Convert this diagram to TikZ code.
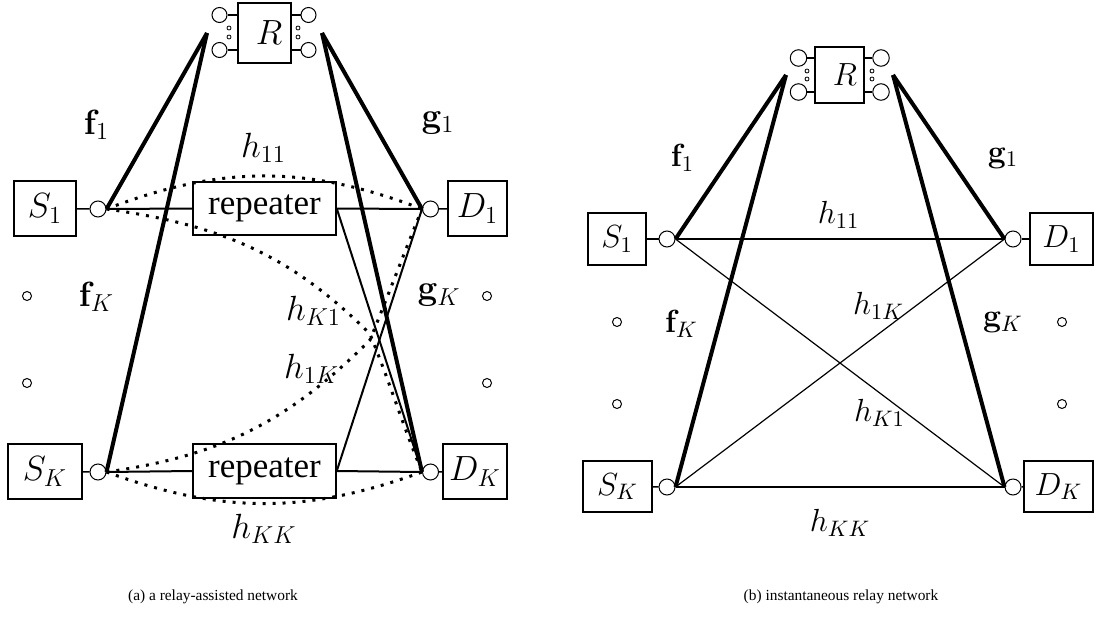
\documentclass[tikz,border=0pt]{standalone}
\usepackage{fix-cm}
\usepackage[no-math]{fontspec}
\setmainfont{Liberation Serif}
\begin{document}
\begin{tikzpicture}[x=0.5pt,y=-0.5pt,
  bx/.style={draw, line width=0.75pt, inner sep=0pt},
  port/.style={circle, draw, line width=0.5pt, minimum size=8pt, inner sep=0pt},
  tinyc/.style={circle, draw, line width=0.4pt, minimum size=2pt, inner sep=0pt},
  vdot/.style={circle, draw, line width=0.5pt, minimum size=4.5pt, inner sep=0pt},
  conn/.style={line width=0.75pt},
  thickln/.style={line width=2pt},
  thinln/.style={line width=1pt},
  thinnerln/.style={line width=0.6pt},
  dotln/.style={line width=1.5pt, dash pattern=on 1.5pt off 3.5pt},
  fa/.style={font=\fontsize{17.5}{20}\selectfont},
  fb/.style={font=\fontsize{16}{19}\selectfont},
  lbl/.style={inner sep=0pt},
  captxt/.style={font=\fontsize{7.7}{9}\selectfont, inner sep=0pt}
]
\useasboundingbox (0,0) rectangle (1096,626);

% ================= Left panel =================
% relay
\node[bx, minimum width=26.5pt, minimum height=30pt] (RA) at (264.5,33) {};
\node[fa, lbl] (RAt) at (269,33) {$R$};
\node[port, minimum size=7.5pt] (ral1) at (219.5,15) {};
\node[port, minimum size=7.5pt] (ral2) at (219.5,50) {};
\node[port, minimum size=7.5pt] (rar1) at (308.5,15) {};
\node[port, minimum size=7.5pt] (rar2) at (308.5,50) {};
\draw[conn] (ral1.east) -- (ral1.east -| RA.west);
\draw[conn] (ral2.east) -- (ral2.east -| RA.west);
\draw[conn] (rar1.west) -- (rar1.west -| RA.east);
\draw[conn] (rar2.west) -- (rar2.west -| RA.east);
\node[tinyc] (ta1) at (229,28) {};
\node[tinyc] (ta2) at (229,37) {};
\node[tinyc] (ta3) at (298,28) {};
\node[tinyc] (ta4) at (298,37) {};
\coordinate (RaL) at (207,33);
\coordinate (RaR) at (322,33);

% sources / destinations
\node[bx, fa, minimum width=31pt, minimum height=27.5pt] (S1a) at (45,208.5) {$S_1$};
\node[bx, fa, minimum width=37pt, minimum height=27.5pt] (SKa) at (45,471.5) {$S_K$};
\node[bx, fa, minimum width=29.5pt, minimum height=27.5pt] (D1a) at (477.5,208.5) {$D_1$};
\node[bx, fa, minimum width=32pt, minimum height=27.5pt] (DKa) at (475,471.5) {$D_K$};
\node[port] (s1a) at (98,209) {};
\node[port] (ska) at (98,472) {};
\node[port] (d1a) at (430.5,209) {};
\node[port] (dka) at (430.5,472) {};
\draw[conn] (S1a) -- (s1a);
\draw[conn] (SKa) -- (ska);
\draw[conn] (D1a) -- (d1a);
\draw[conn] (DKa) -- (dka);

% repeaters
\node[bx, fa, minimum width=71.5pt, minimum height=26.5pt] (rep1) at (264.5,208.5) {repeater};
\node[bx, fa, minimum width=71.5pt, minimum height=27pt] (repK) at (264.5,471) {repeater};

% thin links
\draw[thinln] (s1a.east) -- (rep1.west);
\draw[thinln] (rep1.east) -- (d1a.west);
\draw[thinln] (rep1.east) -- (dka.west);
\draw[thinln] (ska.east) -- (repK.west);
\draw[thinln] (repK.east) -- (dka.west);
\draw[thinln] (repK.east) -- (d1a.west);

% relay links
\draw[thickln] (RaL) -- (s1a.east);
\draw[thickln] (RaL) -- (ska.east);
\draw[thickln] (RaR) -- (d1a.west);
\draw[thickln] (RaR) -- (dka.west);

% direct (dotted) links
\coordinate (Va) at (370,334);
\coordinate (Vb) at (370,340);
\draw[dotln] (s1a.east) to[bend left=21] (d1a.west);
\draw[dotln] (ska.east) to[bend right=20] (dka.west);
\draw[dotln] (s1a.east) to[out=-8,in=135] (Va) to[out=-68,in=112] (dka.west);
\draw[dotln] (ska.east) to[out=8,in=-135] (Vb) to[out=68,in=-112] (d1a.west);

% vertical ellipsis dots
\node[vdot] (ea1) at (27,296) {};
\node[vdot] (ea2) at (27,383) {};
\node[vdot] (ea3) at (487,296) {};
\node[vdot] (ea4) at (487,383) {};

% labels
\node[fa, lbl] (f1a) at (96.5,125) {$\mathbf{f}_1$};
\node[fa, lbl] (g1a) at (438,123) {$\mathbf{g}_1$};
\node[fa, lbl] (h11a) at (263.5,147.5) {$h_{11}$};
\node[fa, lbl] (fKa) at (96.5,297) {$\mathbf{f}_K$};
\node[fa, lbl] (gKa) at (439,295.5) {$\mathbf{g}_K$};
\node[fa, lbl] (hK1a) at (313.5,311) {$h_{K1}$};
\node[fa, lbl] (h1Ka) at (311.5,369) {$h_{1K}$};
\node[fa, lbl] (hKKa) at (264,529) {$h_{KK}$};
\node[captxt] (capa) at (213,597) {(a) a relay-assisted network};

% ================= Right panel =================
\node[bx, minimum width=24.5pt, minimum height=28pt] (RB) at (839.5,75) {};
\node[fb, lbl] (RBt) at (845,75) {$R$};
\node[port, minimum size=8.25pt] (rbl1) at (798.5,58) {};
\node[port, minimum size=8.25pt] (rbl2) at (798.5,92) {};
\node[port, minimum size=8.25pt] (rbr1) at (881,58) {};
\node[port, minimum size=8.25pt] (rbr2) at (881,92) {};
\draw[conn] (rbl1.east) -- (rbl1.east -| RB.west);
\draw[conn] (rbl2.east) -- (rbl2.east -| RB.west);
\draw[conn] (rbr1.west) -- (rbr1.west -| RB.east);
\draw[conn] (rbr2.west) -- (rbr2.west -| RB.east);
\node[tinyc] (tb1) at (807,71) {};
\node[tinyc] (tb2) at (807,79) {};
\node[tinyc] (tb3) at (872,71) {};
\node[tinyc] (tb4) at (872,79) {};
\coordinate (RbL) at (786,75);
\coordinate (RbR) at (893,75);

\node[bx, fb, minimum width=29pt, minimum height=26pt] (S1b) at (617,239) {$S_1$};
\node[bx, fb, minimum width=34.5pt, minimum height=25.5pt] (SKb) at (617.5,486.5) {$S_K$};
\node[bx, fb, minimum width=31.5pt, minimum height=26pt] (D1b) at (1061.5,239) {$D_1$};
\node[bx, fb, minimum width=34.5pt, minimum height=25.5pt] (DKb) at (1058.5,486.5) {$D_K$};
\node[port] (s1b) at (667,239) {};
\node[port] (skb) at (667,487) {};
\node[port] (d1b) at (1013,239) {};
\node[port] (dkb) at (1013,487) {};
\draw[conn] (S1b) -- (s1b);
\draw[conn] (SKb) -- (skb);
\draw[conn] (D1b) -- (d1b);
\draw[conn] (DKb) -- (dkb);

\draw[thinnerln] (s1b.east) -- (d1b.west);
\draw[thinnerln] (skb.east) -- (dkb.west);
\draw[thinnerln] (s1b.east) -- (dkb.west);
\draw[thinnerln] (skb.east) -- (d1b.west);

\draw[thickln] (RbL) -- (s1b.east);
\draw[thickln] (RbL) -- (skb.east);
\draw[thickln] (RbR) -- (d1b.west);
\draw[thickln] (RbR) -- (dkb.west);

\node[vdot] (eb1) at (617,322) {};
\node[vdot] (eb2) at (617,404) {};
\node[vdot] (eb3) at (1062,322) {};
\node[vdot] (eb4) at (1062,404) {};

\node[fb, lbl] (f1b) at (682.5,157.5) {$\mathbf{f}_1$};
\node[fb, lbl] (g1b) at (1003,158) {$\mathbf{g}_1$};
\node[fb, lbl] (h11b) at (838.5,215) {$h_{11}$};
\node[fb, lbl] (fKb) at (681.5,323.5) {$\mathbf{f}_K$};
\node[fb, lbl] (gKb) at (1003,322.5) {$\mathbf{g}_K$};
\node[fb, lbl] (h1Kb) at (878.5,306) {$h_{1K}$};
\node[fb, lbl] (hK1b) at (879.5,412.5) {$h_{K1}$};
\node[fb, lbl] (hKKb) at (840,523) {$h_{KK}$};
\node[captxt] (capb) at (841,597) {(b) instantaneous relay network};
\end{tikzpicture}
\end{document}
